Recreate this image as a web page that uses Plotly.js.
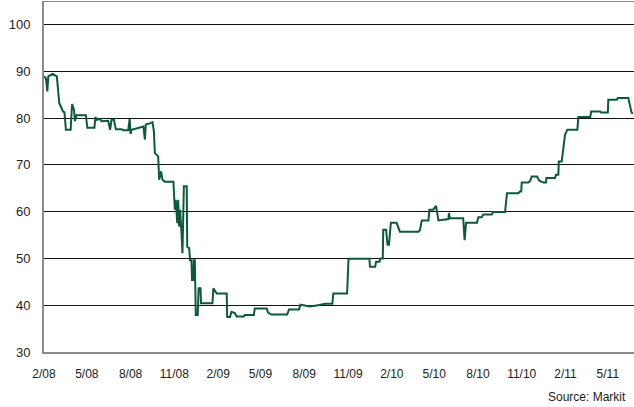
<!DOCTYPE html>
<html>
<head>
<meta charset="utf-8">
<script src="https://cdn.plot.ly/plotly-3.0.1.min.js"></script>
<style>
  html, body { margin: 0; padding: 0; background: #fff; }
  #chart { width: 634px; height: 407px; }
</style>
</head>
<body>
<div id="chart"></div>
<script>
// Dates of index readings
const dates = [
  "2008-02-01","2008-02-05","2008-02-08","2008-02-10","2008-02-19","2008-02-28",
  "2008-03-04","2008-03-09","2008-03-12","2008-03-15","2008-03-18","2008-03-28",
  "2008-03-31","2008-04-04","2008-04-06","2008-04-09","2008-04-29","2008-05-02",
  "2008-05-17","2008-05-19","2008-05-22","2008-05-29","2008-06-01","2008-06-15",
  "2008-06-19","2008-06-22","2008-06-27","2008-07-01","2008-07-13","2008-07-16",
  "2008-07-27","2008-07-30","2008-08-01","2008-08-03","2008-08-17","2008-08-28",
  "2008-08-31","2008-09-02","2008-09-12","2008-09-16","2008-09-19","2008-09-21",
  "2008-09-28","2008-09-30","2008-10-04","2008-10-07","2008-10-12","2008-10-30",
  "2008-11-02","2008-11-04","2008-11-07","2008-11-09","2008-11-11","2008-11-13",
  "2008-11-16","2008-11-18","2008-11-21","2008-11-27","2008-11-28","2008-12-02",
  "2008-12-04","2008-12-07","2008-12-08","2008-12-11","2008-12-12","2008-12-14",
  "2008-12-16","2008-12-20","2008-12-22","2008-12-26","2008-12-27","2009-01-20",
  "2009-01-22","2009-01-29","2009-02-19","2009-02-20","2009-02-26","2009-03-01",
  "2009-03-08","2009-03-12","2009-03-27","2009-03-29","2009-04-17","2009-04-19",
  "2009-05-14","2009-05-17","2009-05-24","2009-06-26","2009-06-30","2009-07-21",
  "2009-07-24","2009-08-13","2009-08-30","2009-09-14","2009-09-29","2009-10-01",
  "2009-10-30","2009-11-02","2009-12-16","2009-12-17","2009-12-28","2009-12-30",
  "2010-01-06","2010-01-08","2010-01-13","2010-01-14","2010-01-20","2010-01-23",
  "2010-01-26","2010-01-30","2010-02-11","2010-02-18","2010-03-29","2010-04-01",
  "2010-04-05","2010-04-19","2010-04-21","2010-04-29","2010-05-05","2010-05-10",
  "2010-05-31","2010-06-01","2010-06-03","2010-07-01","2010-07-04","2010-07-07",
  "2010-07-30","2010-08-02","2010-08-09","2010-08-12","2010-08-30","2010-09-02",
  "2010-09-27","2010-10-01","2010-10-25","2010-10-28","2010-10-31","2010-11-01",
  "2010-11-15","2010-11-19","2010-11-22","2010-12-03","2010-12-08","2010-12-17",
  "2010-12-22","2010-12-23","2011-01-10","2011-01-12","2011-01-17","2011-01-18",
  "2011-01-24","2011-01-31","2011-02-05","2011-02-26","2011-02-28","2011-03-25",
  "2011-03-27","2011-04-15","2011-04-17","2011-05-01","2011-05-02","2011-05-20",
  "2011-05-22","2011-06-13","2011-06-20","2011-06-23"
];
// Index values
const values = [
  88.9,88.5,85.7,88.9,89.4,88.9,
  83.2,82.2,81.4,81.2,77.5,77.5,
  83.0,81.8,79.3,80.6,80.6,77.9,
  77.9,80.2,79.6,79.8,79.3,79.4,
  77.5,79.6,79.6,77.6,77.6,77.4,
  77.4,79.8,76.6,77.5,77.9,78.2,
  75.4,78.6,78.9,79.1,77.1,72.5,
  71.8,66.8,68.6,66.8,66.4,66.4,
  60.4,62.5,57.5,62.5,56.8,60.4,
  55.4,51.1,65.4,65.4,52.5,52.2,
  49.6,49.6,45.4,45.4,49.6,49.6,
  37.9,37.9,43.6,43.6,40.4,40.4,
  43.6,42.5,42.5,37.5,37.5,38.6,
  38.3,37.6,37.6,37.9,37.9,39.3,
  39.3,38.4,38.0,38.0,39.1,39.1,
  40.1,39.7,40.0,40.3,40.3,42.5,
  42.5,49.9,49.9,48.2,48.2,49.3,
  49.3,50.0,50.0,56.1,56.1,52.9,
  52.9,57.6,57.6,55.7,55.7,56.0,
  58.1,58.1,60.4,60.4,61.2,58.1,
  58.4,59.7,58.6,58.6,53.9,57.6,
  57.6,58.8,58.8,59.4,59.4,59.9,
  59.9,63.9,63.9,64.3,64.3,66.2,
  66.2,66.6,67.5,67.5,66.6,66.2,
  66.2,67.2,67.2,67.9,67.9,70.7,
  70.7,76.4,77.5,77.5,80.2,80.2,
  81.4,81.4,81.2,81.2,83.9,83.9,
  84.3,84.3,81.1,81.0
];
const xRange = ["2008-02-01", "2011-06-25"];
const yRange = [30, 105];
const sourceText = "Source: Markit";

const trace = {
  x: dates,
  y: values,
  type: "scatter",
  mode: "lines",
  line: { color: "#0b5a3a", width: 2 },
  hoverinfo: "skip"
};

const layout = {
  width: 634,
  height: 407,
  margin: { l: 44, r: 0, t: 1, b: 55 },
  paper_bgcolor: "#ffffff",
  plot_bgcolor: "#ffffff",
  showlegend: false,
  font: { family: "Liberation Sans, Arial, sans-serif", color: "#222" },
  xaxis: {
    type: "date",
    range: xRange,
    tick0: "2008-02-01",
    dtick: "M3",
    tickformat: "%-m/%y",
    showgrid: false,
    zeroline: false,
    showline: true,
    linecolor: "#8c8c8c",
    linewidth: 2,
    ticks: "outside",
    ticklen: 10,
    tickcolor: "rgba(0,0,0,0)",
    tickfont: { size: 12, color: "#222" },
    fixedrange: true
  },
  yaxis: {
    range: yRange,
    tick0: 30,
    dtick: 10,
    showgrid: true,
    gridcolor: "#111",
    gridwidth: 1,
    zeroline: false,
    showline: true,
    linecolor: "#8c8c8c",
    linewidth: 2,
    ticks: "outside",
    ticklen: 9,
    tickcolor: "rgba(0,0,0,0)",
    tickfont: { size: 13, color: "#222" },
    fixedrange: true
  },
  shapes: [
    { type: "line", xref: "paper", yref: "y", x0: 0, x1: 1, y0: 105, y1: 105,
      line: { color: "#111", width: 1 }, layer: "below" }
  ],
  annotations: [
    { text: sourceText, xref: "paper", yref: "paper", x: 1, y: -0.128,
      xanchor: "right", yanchor: "middle", xshift: -6, showarrow: false,
      font: { size: 12, color: "#222" } }
  ]
};

Plotly.newPlot("chart", [trace], layout, { staticPlot: true, displayModeBar: false });
</script>
</body>
</html>
